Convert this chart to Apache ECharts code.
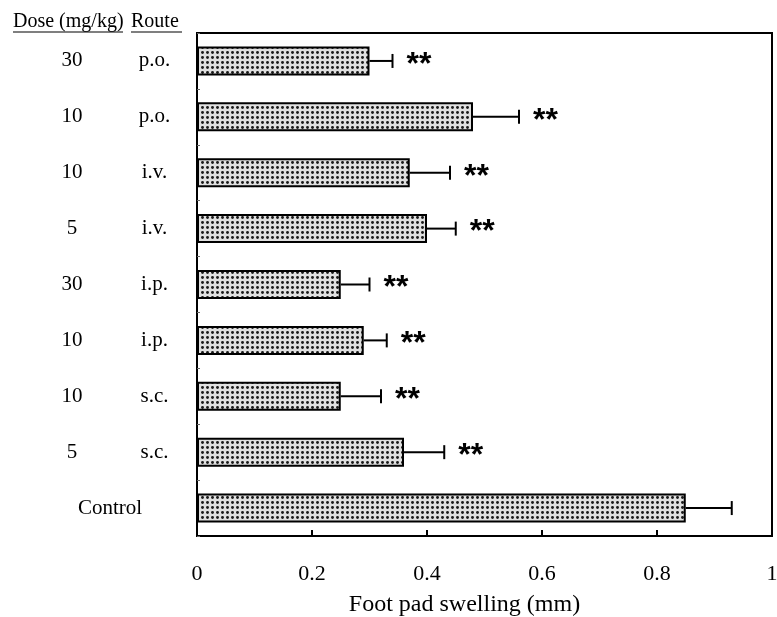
<!DOCTYPE html>
<html>
<head>
<meta charset="utf-8">
<script src="https://cdn.jsdelivr.net/npm/echarts@6/dist/echarts.min.js"></script>
<style>html,body{margin:0;padding:0;background:#fff}#c{width:777px;height:617px}</style>
</head>
<body>
<div id="c"></div>
<script>
// Data
var doses  = ['30', '10', '10', '5', '30', '10', '10', '5', ''];
var routes = ['p.o.', 'p.o.', 'i.v.', 'i.v.', 'i.p.', 'i.p.', 's.c.', 's.c.', 'Control'];
var means  = [0.30, 0.48, 0.37, 0.40, 0.25, 0.29, 0.25, 0.36, 0.85];
var errors = [0.04, 0.08, 0.07, 0.05, 0.05, 0.04, 0.07, 0.07, 0.08];
var signif = ['**', '**', '**', '**', '**', '**', '**', '**', ''];
var xTicks = [0, 0.2, 0.4, 0.6, 0.8, 1];

var categories = routes.map(function (r, i) { return doses[i] ? doses[i] + ' ' + r : r; });

// dotted fill pattern
var pc = document.createElement('canvas');
pc.width = 5; pc.height = 5;
var pctx = pc.getContext('2d');
pctx.fillStyle = '#e0e0e0';
pctx.fillRect(0, 0, 5, 5);
pctx.fillStyle = '#1a1a1a';
pctx.beginPath();
pctx.arc(2.5, 2.5, 1.45, 0, Math.PI * 2);
pctx.fill();

var serif = '"Liberation Serif", "Times New Roman", serif';
var chart = echarts.init(document.getElementById('c'), null, { renderer: 'canvas' });

var errData = means.map(function (m, i) { return [i, m, errors[i]]; });

chart.setOption({
  animation: false,
  backgroundColor: '#fff',
  grid: { left: 197, right: 5, top: 33, bottom: 81, show: true, borderColor: '#000', borderWidth: 2, containLabel: false, outerBoundsMode: 'none' },
  xAxis: {
    type: 'value', min: 0, max: 1, interval: 0.2,
    axisLine: { show: true, lineStyle: { color: '#000', width: 2 } },
    axisTick: { show: true, inside: true, length: 6, lineStyle: { color: '#000', width: 2 } },
    splitLine: { show: false },
    axisLabel: {
      margin: 27, color: '#000', fontFamily: serif, fontSize: 22,
      formatter: function (v) { return xTicks.indexOf(Math.round(v * 10) / 10) >= 0 ? String(Math.round(v * 10) / 10) : ''; }
    },
    name: 'Foot pad swelling (mm)', nameLocation: 'middle', nameGap: 57,
    nameTextStyle: { color: '#000', fontFamily: serif, fontSize: 24, padding: [0, 40, 0, 0] }
  },
  yAxis: {
    type: 'category', inverse: true, data: categories,
    axisLine: { show: true, lineStyle: { color: '#000', width: 2 } },
    axisTick: { show: true, inside: true, length: 3, lineStyle: { color: '#666', width: 1 } },
    axisLabel: {
      margin: 0, color: '#000', fontFamily: serif, fontSize: 21,
      formatter: function (v, i) {
        if (!doses[i]) return '{c|' + routes[i] + '}';
        return '{d|' + doses[i] + '}{r|' + routes[i] + '}';
      },
      rich: {
        d: { width: 80, align: 'center', fontFamily: serif, fontSize: 21, color: '#000' },
        r: { width: 85, align: 'center', fontFamily: serif, fontSize: 21, color: '#000' },
        c: { width: 119, align: 'left', fontFamily: serif, fontSize: 21, color: '#000' }
      }
    }
  },
  graphic: [
    { type: 'text', left: 13, top: 12, style: { text: 'Dose (mg/kg)', font: '20px ' + serif, fill: '#000' } },
    { type: 'text', left: 131, top: 12, style: { text: 'Route', font: '20px ' + serif, fill: '#000' } },
    { type: 'line', shape: { x1: 13, y1: 32, x2: 123, y2: 32 }, style: { stroke: '#000', lineWidth: 1.2 } },
    { type: 'line', shape: { x1: 131, y1: 32, x2: 182, y2: 32 }, style: { stroke: '#000', lineWidth: 1.2 } }
  ],
  series: [
    {
      type: 'bar', data: means, barWidth: 29,
      itemStyle: { color: { image: pc, repeat: 'repeat' }, borderColor: '#000', borderWidth: 2 },
      silent: true
    },
    {
      type: 'custom', data: errData, encode: { y: 0, x: 1 }, silent: true,
      renderItem: function (params, api) {
        var i = api.value(0), m = api.value(1), e = api.value(2);
        var p0 = api.coord([m, i]);
        var p1 = api.coord([m + e, i]);
        var children = [
          { type: 'line', shape: { x1: p0[0], y1: p0[1], x2: p1[0], y2: p1[1] }, style: { stroke: '#000', lineWidth: 2 } },
          { type: 'line', shape: { x1: p1[0], y1: p1[1] - 7, x2: p1[0], y2: p1[1] + 7 }, style: { stroke: '#000', lineWidth: 2 } }
        ];
        if (signif[i]) {
          children.push({
            type: 'text', x: p1[0] + 14, y: p1[1] + 4,
            style: { text: signif[i], font: 'bold 32px "Liberation Sans", Arial, sans-serif', fill: '#000', align: 'left', verticalAlign: 'middle', textAlign: 'left', textVerticalAlign: 'middle' }
          });
        }
        return { type: 'group', children: children };
      }
    }
  ]
});
</script>
</body>
</html>
